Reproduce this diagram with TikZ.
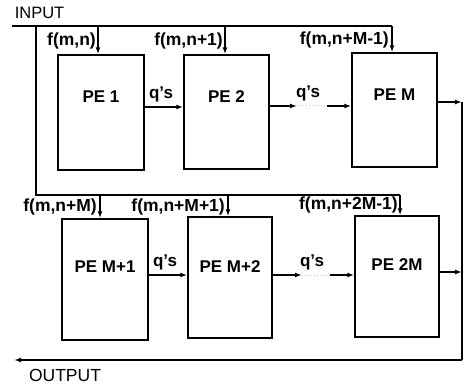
\documentclass[tikz,border=0pt]{standalone}
\usepackage{fontspec}
\setmainfont{Liberation Sans}
\usetikzlibrary{arrows.meta}
\begin{document}
\begin{tikzpicture}[x=1pt,y=-1pt,
  wire/.style={line width=1.4pt},
  arr/.style={line width=1.4pt,-{Latex[length=7pt,width=5pt]}},
  pebox/.style={draw,line width=1.4pt,inner sep=0pt},
  lbl/.style={font=\bfseries\fontsize{17}{20}\selectfont,inner sep=0pt},
  flbl/.style={font=\bfseries\fontsize{17.5}{20}\selectfont,inner sep=0pt,anchor=east},
  faint/.style={dotted,gray!45,line width=1pt}]
\useasboundingbox (0,0) rectangle (469,385);
% boxes
\node[pebox,minimum width=86pt,minimum height=115pt] (pe1) at (101,112.5) {};
\node[pebox,minimum width=85pt,minimum height=114pt] (pe2) at (226.5,112) {};
\node[pebox,minimum width=85pt,minimum height=114pt] (peM) at (394.5,110) {};
\node[pebox,minimum width=86pt,minimum height=121pt] (peM1) at (105,279.5) {};
\node[pebox,minimum width=84pt,minimum height=121pt] (peM2) at (230,277.5) {};
\node[pebox,minimum width=84pt,minimum height=121pt] (pe2M) at (397,276.5) {};
% box labels
\node[lbl] (t1) at (101,97) {PE 1};
\node[lbl] (t2) at (226.5,97) {PE 2};
\node[lbl] (tM) at (394.5,95) {PE M};
\node[lbl] (tM1) at (105,267) {PE M+1};
\node[lbl] (tM2) at (230,267) {PE M+2};
\node[lbl] (t2M) at (397,265) {PE 2M};
% input bus
\node[font=\fontsize{16.5}{18}\selectfont,inner sep=0pt] (inp) at (39.5,13) {INPUT};
\coordinate (inL) at (12,26);
\coordinate (inR) at (392,26);
\coordinate (a1) at (98,26);
\coordinate (a2) at (225,26);
\draw[wire] (inL) -- (inR);
\draw[arr] (inR) -- (inR |- peM.north);
\draw[arr] (a1) -- (a1 |- pe1.north);
\draw[arr] (a2) -- (a2 |- pe2.north);
\coordinate (lv) at (36,26);
\coordinate (lv2) at (36,195);
\coordinate (lr) at (400,195);
\coordinate (b1) at (100,195);
\coordinate (b2) at (228,195);
\draw[wire] (lv) -- (lv2) -- (lr);
\draw[arr] (lr) -- (lr |- pe2M.north);
\draw[arr] (b1) -- (b1 |- peM1.north);
\draw[arr] (b2) -- (b2 |- peM2.north);
% f labels
\node[flbl] (f1) at (96,41) {f(m,n)};
\node[flbl] (f2) at (223,41) {f(m,n+1)};
\node[flbl] (f3) at (389,40) {f(m,n+M-1)};
\node[flbl] (f4) at (97,207) {f(m,n+M)};
\node[flbl] (f5) at (225,207) {f(m,n+M+1)};
\node[flbl] (f6) at (398,205) {f(m,n+2M-1)};
% q's top row
\coordinate (qa) at (0,107);
\draw[arr] (pe1.east |- qa) -- (pe2.west |- qa);
\node[lbl] (q1) at (161,94) {q's};
\coordinate (qb1) at (297,106);
\coordinate (qb2) at (327,106);
\draw[arr] (pe2.east |- qb1) -- (qb1);
\draw[faint] (qb1) -- (qb2);
\draw[arr] (qb2) -- (peM.west |- qb2);
\node[lbl] (q2) at (308,93) {q's};
% q's bottom row
\coordinate (qc) at (0,275);
\draw[arr] (peM1.east |- qc) -- (peM2.west |- qc);
\node[lbl] (q3) at (165,262) {q's};
\coordinate (qd1) at (302,275);
\coordinate (qd2) at (330,275);
\draw[arr] (peM2.east |- qd1) -- (qd1);
\draw[faint] (qd1) -- (qd2);
\draw[arr] (qd2) -- (pe2M.west |- qd2);
\node[lbl] (q4) at (312,262) {q's};
% output
\coordinate (r1) at (462,102);
\coordinate (r2) at (462,272);
\coordinate (r3) at (462,360);
\coordinate (out) at (14,360);
\draw[arr] (peM.east |- r1) -- (r1);
\draw[arr] (pe2M.east |- r2) -- (r2);
\draw[wire] (r1) -- (r3);
\draw[arr] (r3) -- (out);
\node[font=\fontsize{17.5}{20}\selectfont,inner sep=0pt] (outp) at (65,375) {OUTPUT};
\end{tikzpicture}
\end{document}
